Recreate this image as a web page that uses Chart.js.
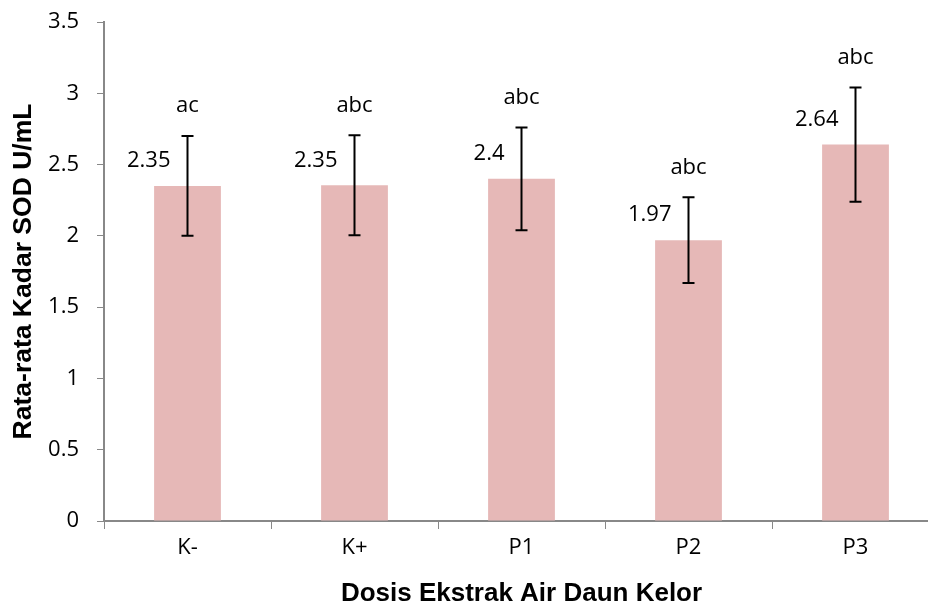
<!DOCTYPE html>
<html>
<head>
<meta charset="utf-8">
<script src="https://cdn.jsdelivr.net/npm/chart.js@4.4.1/dist/chart.umd.min.js"></script>
<style>
  html, body { margin: 0; padding: 0; background: #fff; overflow: hidden; }
  #wrap { width: 939px; height: 606px; }
</style>
</head>
<body>
<div id="wrap"><canvas id="myChart" width="939" height="606"></canvas></div>
<script>
// data
var categories = ["K-", "K+", "P1", "P2", "P3"];
var meanSod = [2.35, 2.355, 2.40, 1.97, 2.64];
var sdSod = [0.35, 0.35, 0.36, 0.30, 0.40];
var valueLabels = ["2.35", "2.35", "2.4", "1.97", "2.64"];
var letterLabels = ["ac", "abc", "abc", "abc", "abc"];
var yMax = 3.5;
var yStep = 0.5;

var tickFont = { family: "'Open Sans', 'Noto Sans', sans-serif", size: 22 };
var titleFamily = "'Liberation Sans', Arial, sans-serif";

// error bars + the two text labels above every bar
var errorBarPlugin = {
    id: 'errorBars',
    afterDatasetsDraw: function(chart) {
        var ctx = chart.ctx;
        var yScale = chart.scales.y;
        var meta = chart.getDatasetMeta(0);
        ctx.save();
        meta.data.forEach(function(bar, i) {
            var x = bar.x;
            var top = yScale.getPixelForValue(meanSod[i] + sdSod[i]);
            var bottom = yScale.getPixelForValue(meanSod[i] - sdSod[i]);
            ctx.strokeStyle = '#000';
            ctx.lineWidth = 2;
            ctx.beginPath();
            ctx.moveTo(x, top);
            ctx.lineTo(x, bottom);
            ctx.moveTo(x - 6, top);
            ctx.lineTo(x + 6, top);
            ctx.moveTo(x - 6, bottom);
            ctx.lineTo(x + 6, bottom);
            ctx.stroke();

            ctx.fillStyle = '#000';
            ctx.font = tickFont.size + 'px ' + tickFont.family;
            ctx.textBaseline = 'middle';
            // value to the upper left of the bar top
            ctx.textAlign = 'right';
            ctx.fillText(valueLabels[i], x - 17, bar.y - 25);
            // significance letters above the error bar
            ctx.textAlign = 'center';
            ctx.fillText(letterLabels[i], x, top - 30);
        });
        ctx.restore();
    }
};

var ctx = document.getElementById("myChart").getContext('2d');
var myChart = new Chart(ctx, {
    type: 'bar',
    data: {
        labels: categories,
        datasets: [{
            data: meanSod,
            backgroundColor: '#E6B8B7',
            borderWidth: 0,
            barPercentage: 0.4,
            categoryPercentage: 1.0
        }]
    },
    options: {
        responsive: false,
        animation: false,
        devicePixelRatio: 1,
        layout: { padding: { top: 22, right: 0, left: 0, bottom: 0 } },
        plugins: {
            legend: { display: false },
            tooltip: { enabled: false }
        },
        scales: {
            x: {
                grid: {
                    offset: true,
                    drawOnChartArea: false,
                    drawTicks: true,
                    tickLength: 8,
                    color: '#888'
                },
                border: { color: '#888', width: 2 },
                ticks: { color: '#000', font: tickFont, padding: 6 },
                title: {
                    display: true,
                    text: 'Dosis Ekstrak Air Daun Kelor',
                    color: '#000',
                    font: { family: titleFamily, size: 26, weight: 'bold', lineHeight: 0.9 },
                    padding: { top: 0, bottom: 0 }
                },
                afterFit: function(scale) { scale.height = 85; }
            },
            y: {
                min: 0,
                max: yMax,
                grid: {
                    drawOnChartArea: false,
                    drawTicks: true,
                    tickLength: 7,
                    color: '#888'
                },
                border: { color: '#888', width: 2 },
                ticks: {
                    stepSize: yStep,
                    color: '#000',
                    font: tickFont,
                    padding: 18,
                    callback: function(v) { return String(Math.round(v * 10) / 10); }
                },
                title: {
                    display: true,
                    text: 'Rata-rata Kadar SOD U/mL',
                    color: '#000',
                    font: { family: titleFamily, size: 26.5, weight: 'bold' },
                    padding: { top: 8, bottom: 0 }
                },
                afterFit: function(scale) {
                    scale.width = 104;
                    // let layout.padding decide where 3.5 sits
                    scale.paddingTop = 0;
                    scale.paddingBottom = 0;
                }
            }
        }
    },
    plugins: [errorBarPlugin]
});
</script>
</body>
</html>
